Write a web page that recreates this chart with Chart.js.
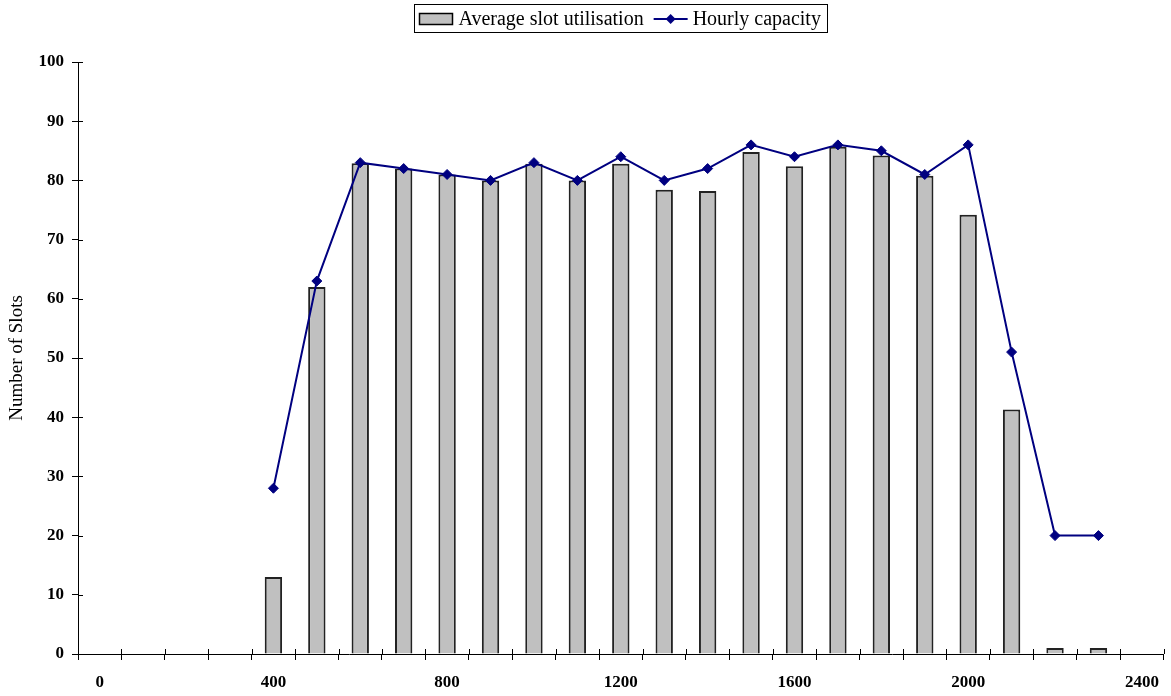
<!DOCTYPE html>
<html>
<head>
<meta charset="utf-8">
<script src="https://cdn.jsdelivr.net/npm/chart.js@4.4.0/dist/chart.umd.min.js"></script>
<style>
  html, body { margin: 0; padding: 0; background: #fff; }
  #wrap { width: 1171px; height: 696px; }
</style>
</head>
<body>
<div id="wrap"><canvas id="slotsChart"></canvas></div>
<script>
const hours = ['0', '100', '200', '300', '400', '500', '600', '700', '800', '900', '1000', '1100', '1200',
    '1300', '1400', '1500', '1600', '1700', '1800', '1900', '2000', '2100', '2200', '2300', '2400'];
const avgUtilisation = [null, null, null, null, 13, 62, 82.9, 82, 81, 80, 82.8, 80, 82.8,
    78.4, 78.2, 84.8, 82.4, 85.7, 84.2, 80.8, 74.2, 41.3, 1, 1, null];
const hourlyCapacity = [null, null, null, null, 28, 63, 83, 82, 81, 80, 83, 80, 84,
    80, 82, 86, 84, 86, 85, 81, 86, 51, 20, 20, null];
const yTicks = { min: 0, max: 100, step: 10 };

const serif = '"Liberation Serif", "Times New Roman", serif';

// kleine Striche nach innen + Legende mit Rahmen
const extrasPlugin = {
    id: 'extras',
    afterDraw(chart) {
        const c = chart.ctx;
        const x = chart.scales.x;
        const y = chart.scales.y;
        c.save();
        c.strokeStyle = '#000';
        c.lineWidth = 1;
        c.beginPath();
        const n = chart.data.labels.length;
        for (let i = 0; i <= n; i++) {
            const px = Math.round(x.left + i * x.width / n) + 0.5;
            c.moveTo(px, x.top - 5);
            c.lineTo(px, x.top);
        }
        y.ticks.forEach((t, i) => {
            const py = Math.round(y.getPixelForTick(i)) + 0.5;
            c.moveTo(y.right, py);
            c.lineTo(y.right + 5, py);
        });
        c.stroke();

        // Legende
        const ds = chart.data.datasets;
        c.font = '20px ' + serif;
        c.textBaseline = 'middle';
        const w1 = c.measureText(ds[0].label).width;
        const w2 = c.measureText(ds[1].label).width;
        const total = 5 + 33 + 6 + w1 + 10 + 34 + 5 + w2 + 7;
        const cx = (chart.chartArea.left + chart.chartArea.right) / 2;
        let lx = Math.round(cx - total / 2) + 0.5;
        const top = 4.5, h = 28, mid = 19;
        c.strokeRect(lx, top, Math.round(total), h);
        let px = lx + 5;
        c.fillStyle = ds[0].backgroundColor;
        c.fillRect(px, 13.5, 33, 11);
        c.strokeStyle = '#000';
        c.lineWidth = 1.5;
        c.strokeRect(px, 13.5, 33, 11);
        px += 33 + 6;
        c.fillStyle = '#000';
        c.fillText(ds[0].label, px, mid + 1);
        px += w1 + 10;
        c.strokeStyle = ds[1].borderColor;
        c.lineWidth = 2;
        c.beginPath();
        c.moveTo(px, mid);
        c.lineTo(px + 34, mid);
        c.stroke();
        c.fillStyle = ds[1].borderColor;
        c.beginPath();
        const dx = px + 17;
        c.moveTo(dx - 5, mid);
        c.lineTo(dx, mid - 5);
        c.lineTo(dx + 5, mid);
        c.lineTo(dx, mid + 5);
        c.closePath();
        c.fill();
        px += 34 + 5;
        c.fillStyle = '#000';
        c.fillText(ds[1].label, px, mid + 1);
        c.restore();
    }
};

new Chart(document.getElementById('slotsChart'), {
    type: 'bar',
    data: {
        labels: hours,
        datasets: [{
            type: 'bar',
            label: 'Average slot utilisation',
            data: avgUtilisation,
            backgroundColor: '#C0C0C0',
            borderColor: '#222',
            borderWidth: 2,
            barPercentage: 0.4,
            categoryPercentage: 1,
            order: 1
        }, {
            type: 'line',
            label: 'Hourly capacity',
            data: hourlyCapacity,
            borderColor: '#000080',
            backgroundColor: '#000080',
            borderWidth: 2,
            pointStyle: 'rectRot',
            pointRadius: 5,
            pointBorderWidth: 1,
            tension: 0,
            spanGaps: false,
            order: 0
        }]
    },
    options: {
        responsive: true,
        maintainAspectRatio: false,
        animation: false,
        layout: {
            padding: { top: 62, right: 6, left: 0, bottom: 0 }
        },
        plugins: {
            legend: { display: false },
            tooltip: { enabled: false }
        },
        scales: {
            x: {
                offset: true,
                grid: {
                    offset: true,
                    drawOnChartArea: false,
                    drawTicks: true,
                    tickLength: 6,
                    color: '#000'
                },
                border: { display: true, color: '#000', width: 1 },
                ticks: {
                    autoSkip: false,
                    maxRotation: 0,
                    padding: 12,
                    color: '#000',
                    font: { family: serif, size: 17, weight: 'bold' },
                    callback: function (val, i) {
                        return i % 4 === 0 ? this.getLabelForValue(val) : '';
                    }
                },
                afterFit(scale) { scale.height = 42; }
            },
            y: {
                min: yTicks.min,
                max: yTicks.max,
                grid: {
                    drawOnChartArea: false,
                    drawTicks: true,
                    tickLength: 6,
                    color: '#000'
                },
                border: { display: true, color: '#000', width: 1 },
                ticks: {
                    stepSize: yTicks.step,
                    padding: 8,
                    color: '#000',
                    font: { family: serif, size: 17, weight: 'bold' }
                },
                title: {
                    display: true,
                    text: 'Number of Slots',
                    color: '#000',
                    padding: 6,
                    font: { family: serif, size: 19 }
                },
                afterFit(scale) { scale.width = 78; }
            }
        }
    },
    plugins: [extrasPlugin]
});
</script>
</body>
</html>
